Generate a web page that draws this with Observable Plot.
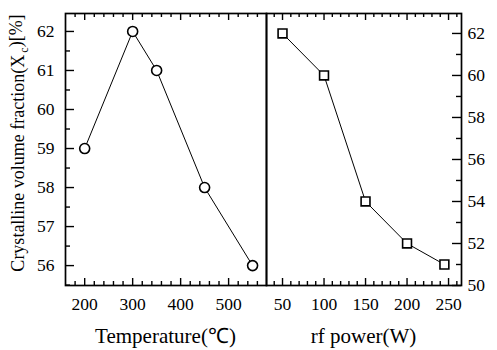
<!DOCTYPE html>
<html><head><meta charset="utf-8">
<script src="https://cdn.jsdelivr.net/npm/d3@7"></script>
<script src="https://cdn.jsdelivr.net/npm/@observablehq/plot@0.6"></script>
<style>
body{margin:0;background:#fff;}
#wrap{position:relative;width:497px;height:350px;background:#fff;}
#wrap svg{position:absolute;top:0;overflow:visible;}
</style></head><body><div id="wrap"></div>
<script>
// data
const temperature = [200, 300, 350, 450, 550];
const fractionTemp = [59, 62, 61, 58, 56];
const power = [50, 100, 150, 200, 245];
const fractionPower = [62, 60, 54, 52, 51];
// tick labels
const tempTicks = [200, 300, 400, 500];
const tempFracTicks = [56, 57, 58, 59, 60, 61, 62];
const powerTicks = [50, 100, 150, 200, 250];
const powerFracTicks = [50, 52, 54, 56, 58, 60, 62];

const SERIF = "Liberation Serif";
const H = 350, MT = 13, MB = 65, FH = H - MT - MB;

function panel(o) {
  const FW = o.width - o.ml - o.mr;
  const data = o.xs.map((x, i) => ({x, y: o.ys[i]}));
  const yInset = o.yAnchor === "left" ? "insetRight" : "insetLeft";
  const tk = {stroke: "#000", strokeWidth: 1.4};
  const ax = {tickSize: 0, label: null, fontFamily: SERIF, fontSize: 17.5, fontVariant: "normal", fill: "#000"};
  return Plot.plot({
    width: o.width, height: H,
    marginLeft: o.ml, marginRight: o.mr, marginTop: MT, marginBottom: MB,
    style: "font-family:'Liberation Serif', serif;font-size:17.5px;background:transparent;color:#000",
    x: {domain: o.xDomain}, y: {domain: o.yDomain},
    marks: [
      Plot.tickX(o.xMajor, {x: d => d, insetTop: FH - 7, ...tk}),
      Plot.tickX(o.xMajor, {x: d => d, insetBottom: FH - 7, ...tk}),
      Plot.tickX(o.xMinor, {x: d => d, insetTop: FH - 4, ...tk}),
      Plot.tickX(o.xMinor, {x: d => d, insetBottom: FH - 4, ...tk}),
      Plot.tickY(o.yMajor, {y: d => d, [yInset]: FW - 9, ...tk}),
      Plot.tickY(o.yMinor, {y: d => d, [yInset]: FW - 5, ...tk}),
      Plot.axisX(o.xMajor, {anchor: "bottom", tickPadding: 12, ...ax}),
      Plot.axisY(o.yMajor, {anchor: o.yAnchor, tickPadding: o.yAnchor === "left" ? 11 : 6, ...ax}),
      Plot.line(data, {x: "x", y: "y", stroke: "#000", strokeWidth: 1}),
      Plot.dot(data, {x: "x", y: "y", symbol: o.symbol, r: 5, fill: "#fff", stroke: "#000", strokeWidth: 1.6}),
      Plot.frame({stroke: "#000", strokeWidth: 1.7})
    ]
  });
}

const tempMinor = d3.range(180, 579, 20).filter(d => d % 100 !== 0);
const tempFracMinor = d3.range(55.5, 62.46, 0.5).filter(d => d % 1 !== 0);
const powerMinor = d3.range(40, 266, 10).filter(d => d % 50 !== 0);
const powerFracMinor = d3.range(51, 62.95, 2);

const left = panel({
  width: 266, ml: 65, mr: 0,
  xDomain: [160, 579], yDomain: [55.49, 62.46],
  xs: temperature, ys: fractionTemp,
  xMajor: tempTicks, xMinor: tempMinor,
  yMajor: tempFracTicks, yMinor: tempFracMinor,
  yAnchor: "left", symbol: "circle"
});
const right = panel({
  width: 231, ml: 0, mr: 36,
  xDomain: [30.7, 265.6], yDomain: [50, 62.95],
  xs: power, ys: fractionPower,
  xMajor: powerTicks, xMinor: powerMinor,
  yMajor: powerFracTicks, yMinor: powerFracMinor,
  yAnchor: "right", symbol: "square"
});
left.style.left = "0px";
right.style.left = "266px";
const wrap = document.getElementById("wrap");
wrap.appendChild(left);
wrap.appendChild(right);

// axis titles
const lt = d3.select(left).append("text")
  .attr("transform", "translate(24,143) rotate(-90)")
  .attr("text-anchor", "middle").attr("fill", "#000")
  .attr("font-family", SERIF).attr("font-size", 18);
lt.append("tspan").text("Crystalline volume fraction(X");
lt.append("tspan").attr("dx", "2").attr("dy", "0.35em").attr("font-size", 12).text("c");
lt.append("tspan").attr("dy", "-0.35em").text(")[%]");

d3.select(left).append("text")
  .attr("x", 165.5).attr("y", 343).attr("text-anchor", "middle").attr("fill", "#000")
  .attr("font-family", SERIF).attr("font-size", 21).text("Temperature(℃)");
d3.select(right).append("text")
  .attr("x", 97.5).attr("y", 343).attr("text-anchor", "middle").attr("fill", "#000")
  .attr("font-family", SERIF).attr("font-size", 21).text("rf power(W)");
d3.selectAll("#wrap text").attr("font-variant", null);
</script></body></html>
